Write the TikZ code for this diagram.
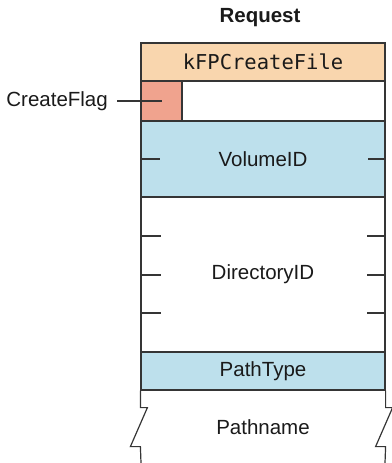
\documentclass[tikz,border=0pt]{standalone}
\usepackage{fontspec}
\setmainfont{Liberation Sans}
\setmonofont{DejaVu Sans Mono}
\definecolor{edge}{HTML}{353535}
\definecolor{ink}{HTML}{1A1A1A}
\definecolor{peach}{HTML}{F9D6AE}
\definecolor{salmon}{HTML}{F0A38E}
\definecolor{skyblue}{HTML}{BDE0EC}
\begin{document}
\begin{tikzpicture}[x=1pt,y=-1pt,
  field/.style={draw=edge, line width=1.2pt, rectangle, inner sep=0pt,
    minimum width=244pt, text=ink, font=\fontsize{20.5}{24}\selectfont},
  label/.style={text=ink, inner sep=0pt, font=\fontsize{20.5}{24}\selectfont},
  rule/.style={draw=edge, line width=1.2pt}]
\useasboundingbox (0,0) rectangle (391,463);

% title
\node[label, font=\fontsize{20.5}{24}\selectfont\bfseries] (title) at (260,18) {Request};

% command code
\node[field, fill=peach, minimum height=38pt, font=\fontsize{20.5}{24}\selectfont\ttfamily]
  (cmd) at (263,62) {kFPCreateFile};

% flag byte row
\node[field, fill=white, minimum height=40pt] (flagrow) at (263,101) {};
\node[field, fill=salmon, minimum width=41pt, minimum height=40pt] (flag) at (161.5,101) {};
\node[label, anchor=east] (flaglabel) at (108,101) {CreateFlag};
\draw[rule] ([xshift=9pt]flaglabel.east) -- (flag.center);

% volume
\node[field, fill=skyblue, minimum height=76pt] (vol) at (263,159) {VolumeID};
\draw[rule] (vol.west) -- ++(20,0);
\draw[rule] (vol.east) -- ++(-18,0);

% directory
\node[field, fill=white, minimum height=155pt] (dir) at (263,274.5) {DirectoryID};
\foreach \y in {236,275,313} {
  \draw[rule] (141,\y) -- ++(20,0);
  \draw[rule] (385,\y) -- ++(-18,0);
}

% path type
\node[field, fill=skyblue, minimum height=38pt] (ptype) at (263,371) {PathType};

% pathname, open at the bottom with break marks
\node[label] (pname) at (263,427) {Pathname};
\coordinate (lend) at (141,463);
\coordinate (rend) at (385,463);
\draw[rule, line join=miter] (ptype.south west) -- ++(0,17) -- ++(7,0) -- ++(-17,39) -- ++(10,0) -- (lend);
\draw[rule, line join=miter] (ptype.south east) -- ++(0,17) -- ++(7,0) -- ++(-17,39) -- ++(10,0) -- (rend);
\end{tikzpicture}
\end{document}
